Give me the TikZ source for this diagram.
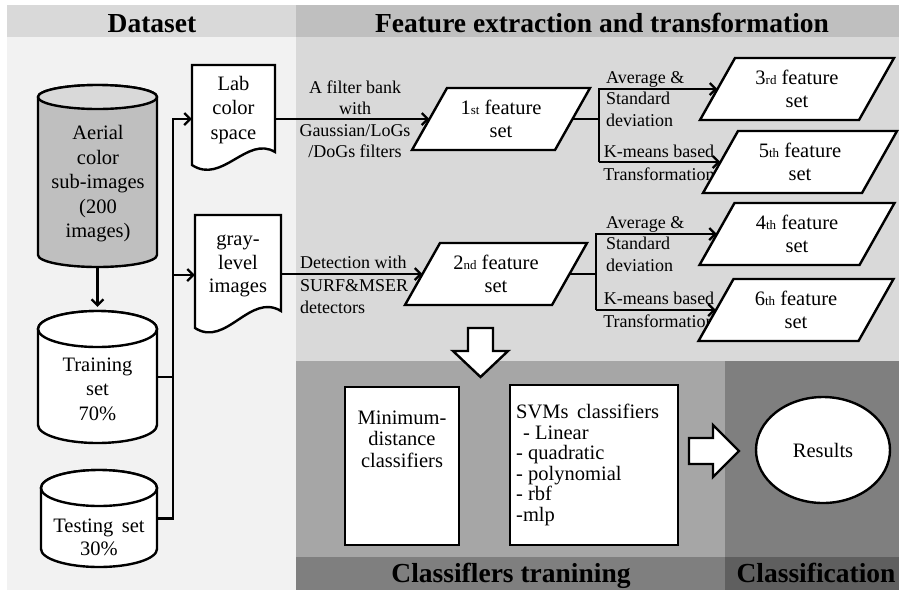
\documentclass[tikz,border=0pt]{standalone}
\usepackage{fontspec}
\setmainfont{Liberation Serif}
\usetikzlibrary{arrows.meta,shapes.geometric}
\definecolor{dshead}{HTML}{D9D9D9}
\definecolor{dsbody}{HTML}{F2F2F2}
\definecolor{fehead}{HTML}{BFBFBF}
\definecolor{febody}{HTML}{D9D9D9}
\definecolor{clbody}{HTML}{A6A6A6}
\definecolor{clband}{HTML}{7F7F7F}
\definecolor{csbody}{HTML}{7F7F7F}
\definecolor{csband}{HTML}{5F5F5F}
\definecolor{aerbody}{HTML}{BFBFBF}
\definecolor{aertop}{HTML}{D9D9D9}
\newcommand\mycyl[7]{%
 \filldraw[fill=#6, line width=2.4pt] (#1-#2,#3+#5) -- (#1-#2,#4-#5) arc[start angle=180,end angle=360,x radius=#2pt,y radius=#5pt] -- (#1+#2,#3+#5) arc[start angle=0,end angle=180,x radius=#2pt,y radius=#5pt] -- cycle;
 \filldraw[fill=#7, line width=2.4pt] (#1,#3+#5) ellipse[x radius=#2pt,y radius=#5pt];}
\newcommand\mypara[5]{% name, cx, cy, width, text
 \draw[box] (#2-#4/2,#3+31) -- (#2-#4/2+35,#3-31) -- (#2+#4/2,#3-31) -- (#2+#4/2-35,#3+31) -- cycle;
 \node[ftxt, minimum width=#4pt, minimum height=62pt] (#1) at (#2,#3) {#5};}
\newcommand\sml[1]{{\fontsize{13}{13}\selectfont #1}}
\begin{document}
\begin{tikzpicture}[x=1pt,y=-1pt,
  box/.style={draw,line width=2.4pt,fill=white,line join=miter},
  conn/.style={line width=2.2pt},
  arr/.style={conn,-{Straight Barb[length=6pt,width=12pt]}},
  txt/.style={font=\fontsize{20.5}{24.5}\selectfont, align=center, inner sep=0pt},
  ftxt/.style={font=\fontsize{20.5}{23}\selectfont, align=center, inner sep=0pt},
  lbl/.style={font=\fontsize{18}{21.5}\selectfont, inner sep=0pt},
  head/.style={font=\fontsize{27.5}{30}\selectfont\bfseries, inner sep=0pt, anchor=base}
]
\useasboundingbox (0,0) rectangle (899,590);
% panels
\fill[dsbody] (7,37) rectangle (296,590);
\fill[dshead] (7,5) rectangle (296,37);
\fill[febody] (296,37) rectangle (899,361);
\fill[fehead] (296,5) rectangle (899,37);
\fill[clbody] (296,361) rectangle (725,557);
\fill[clband] (296,557) rectangle (725,590);
\fill[csbody] (725,361) rectangle (899,557);
\fill[csband] (725,557) rectangle (899,590);
\node[head] (hds) at (152,32) {Dataset};
\node[head] (hfe) at (602,32) {Feature extraction and transformation};
\node[head] (hct) at (511,582) {Classiflers tranining};
\node[head] (hcs) at (816,582) {Classification};
% labels
\node[lbl, align=center] (la) at (355,119) {A filter bank\\with\\Gaussian/LoGs\\/DoGs filters};
\node[lbl, align=left, anchor=west, font=\fontsize{18}{22.5}\selectfont] (lb) at (300,285) {Detection with\\SURF\&MSER\\detectors};
\node[lbl, align=left, anchor=west] (lc) at (606,99) {Average \&\\Standard\\deviation};
\node[lbl, align=center, font=\fontsize{18}{23}\selectfont] (ld) at (659,163) {K-means based\\Transformation};
\node[lbl, align=left, anchor=west] (le) at (606,244) {Average \&\\Standard\\deviation};
\node[lbl, align=center, font=\fontsize{18}{23}\selectfont] (lf) at (659,310) {K-means based\\Transformation};
% cylinders
\mycyl{97.5}{59.5}{85}{267}{12}{aerbody}{aertop}
\mycyl{97.5}{59.5}{311}{443}{18}{white}{white}
\mycyl{99}{58}{470}{567}{18}{white}{white}
\node[minimum width=119pt, minimum height=182pt, inner sep=0pt] (aer) at (97.5,176) {};
\node[txt] (aert) at (98,184) {Aerial\\color\\sub-images\\(200\\images)};
\node[minimum width=119pt, minimum height=132pt, inner sep=0pt] (tr) at (97.5,377) {};
\node[txt] (trt) at (97.5,389) {Training\\set\\70\%};
\node[minimum width=116pt, minimum height=97pt, inner sep=0pt] (te) at (99,518.5) {};
\node[txt, font=\fontsize{20.5}{23}\selectfont] (tet) at (99,537) {Testing\, set\\30\%};
% documents
\draw[box] (192,165) -- (192,65) -- (275,65) -- (275,152) .. controls (247,135) and (222,185) .. (192,165) -- cycle;
\node[txt, minimum width=83pt, minimum height=90pt] (lab) at (233.5,110) {Lab\\color\\space};
\draw[box] (195,328) -- (195,215) -- (281,215) -- (281,311) .. controls (250,292) and (226,348) .. (195,328) -- cycle;
\node[txt, minimum width=86pt, minimum height=102pt, font=\fontsize{20.5}{23.5}\selectfont] (gray) at (238,266) {gray-\\level\\images};
% feature sets
\mypara{f1}{501}{119}{178}{1\sml{st} feature\\set}
\mypara{f2}{496}{274}{182}{2\sml{nd} feature\\set}
\mypara{f3}{797}{89}{194}{3\sml{rd} feature\\set}
\mypara{f5}{800}{162}{194}{5\sml{th} feature\\set}
\mypara{f4}{797}{234}{195}{4\sml{th} feature\\set}
\mypara{f6}{796}{310}{195}{6\sml{th} feature\\set}
% classifiers
\node[box, minimum width=114pt, minimum height=158pt, inner sep=0pt] (mind) at (402,466) {};
\node[txt, font=\fontsize{20.5}{21.5}\selectfont] (mint) at (402,439) {Minimum-\\distance\\classifiers};
\node[box, minimum width=168pt, minimum height=160pt, inner sep=0pt] (svm) at (594,465) {};
\node[txt, align=left, anchor=west, font=\fontsize{20.5}{20.5}\selectfont] (svmt) at (516,465) {SVMs\, classifiers\\\hspace*{7pt}- Linear\\- quadratic\\- polynomial\\- rbf\\-mlp};
\node[box, ellipse, minimum width=134pt, minimum height=106pt, inner sep=0pt, font=\fontsize{20.5}{24}\selectfont] (res) at (823,450) {Results};
% block arrows
\draw[box] (468,328) -- (493,328) -- (493,351) -- (508,351) -- (480.5,377) -- (453,351) -- (468,351) -- cycle;
\draw[box] (689,438) -- (713,438) -- (713,425) -- (739,451) -- (713,477) -- (713,464) -- (689,464) -- cycle;
% connectors
\coordinate (tk1) at (173,119);
\coordinate (tk2) at (173,275);
\draw[arr] (aer.south) -- ([yshift=4pt]tr.north);
\draw[conn] (tr.east) -- (tr.east -| tk1);
\draw[arr] (te.east) -| (tk1) -- (tk1 -| lab.west);
\draw[arr] (tk2) -- (tk2 -| gray.west);
\draw[arr] (lab.east |- f1.center) -- ([xshift=17.5pt]f1.west);
\draw[arr] (gray.east |- f2.center) -- ([xshift=17.5pt]f2.west);
\coordinate (b1) at (599,119);
\coordinate (b2) at (596,274);
\draw[conn] ([xshift=-17.5pt]f1.east) -- (b1);
\draw[arr] (b1 |- f5.center) -- (b1 |- f3.center) -- ([xshift=17.5pt]f3.west);
\draw[arr] (b1 |- f5.center) -- ([xshift=17.5pt]f5.west);
\draw[conn] ([xshift=-17.5pt]f2.east) -- (b2);
\draw[arr] (b2 |- f6.center) -- (b2 |- f4.center) -- ([xshift=17.5pt]f4.west);
\draw[arr] (b2 |- f6.center) -- ([xshift=17.5pt]f6.west);
\end{tikzpicture}
\end{document}
